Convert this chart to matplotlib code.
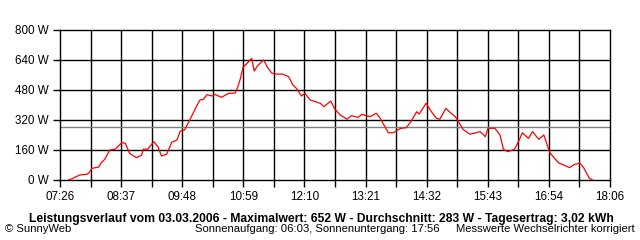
import numpy as np
import matplotlib
matplotlib.use('Agg')
from matplotlib import pyplot as plt

plt.rcParams['font.family'] = ['Liberation Sans', 'DejaVu Sans']

zeiten = ['07:36', '07:41', '07:49', '07:57', '08:00', '08:03', '08:11', '08:14', '08:18', '08:24',
          '08:30', '08:38', '08:42', '08:47', '08:55', '09:01', '09:03', '09:08', '09:15', '09:20',
          '09:24', '09:30', '09:36', '09:42', '09:46', '09:51', '09:57', '10:05', '10:09', '10:13',
          '10:17', '10:23', '10:26', '10:34', '10:42', '10:50', '10:53', '10:56', '10:59', '11:03',
          '11:09', '11:12', '11:16', '11:23', '11:27', '11:32', '11:36', '11:45', '11:52', '11:57',
          '12:01', '12:07', '12:11', '12:17', '12:23', '12:29', '12:33', '12:41', '12:46', '12:52',
          '13:00', '13:05', '13:13', '13:17', '13:27', '13:34', '13:38', '13:48', '13:54', '14:02',
          '14:09', '14:15', '14:21', '14:24', '14:32', '14:39', '14:44', '14:48', '14:55', '15:01',
          '15:06', '15:15', '15:23', '15:35', '15:41', '15:44', '15:52', '15:58', '16:02', '16:07',
          '16:15', '16:20', '16:24', '16:31', '16:36', '16:43', '16:49', '16:56', '17:00', '17:06',
          '17:19', '17:25', '17:31', '17:35', '17:42', '17:46']
leistung = [0, 9, 27, 30, 39, 62, 69, 92, 110, 160,
            164, 199, 196, 142, 119, 133, 165, 164, 204, 178,
            128, 137, 201, 213, 261, 267, 320, 395, 427, 430,
            455, 448, 457, 441, 462, 464, 498, 542, 601, 619,
            649, 581, 610, 640, 604, 572, 565, 565, 551, 507,
            489, 448, 462, 427, 418, 409, 391, 421, 377, 347,
            324, 343, 334, 350, 338, 356, 334, 252, 252, 275,
            279, 316, 364, 352, 409, 359, 329, 324, 382, 356,
            338, 270, 244, 258, 231, 276, 276, 240, 164, 151,
            164, 210, 252, 222, 258, 217, 240, 146, 124, 92,
            66, 84, 89, 68, 9, 0]
durchschnitt = 283

y_ticks = [0, 160, 320, 480, 640, 800]
x_labels = ['07:26', '08:37', '09:48', '10:59', '12:10', '13:21', '14:32', '15:43', '16:54', '18:06']


def minuten(s):
    h, m = s.split(':')
    return int(h) * 60 + int(m)


t = np.array([minuten(z) for z in zeiten])
t0 = minuten(x_labels[0])
t1 = minuten(x_labels[-1])

fig = plt.figure(figsize=(6.4, 2.4), dpi=100)
ax = fig.add_axes([60 / 640, 60 / 240, 550 / 640, 150 / 240])

grid_x = np.linspace(t0, t1, 19)
for gx in grid_x[1:-1]:
    ax.axvline(gx, color='black', lw=1.0, zorder=1)
for gy in y_ticks[1:-1]:
    ax.axhline(gy, color='black', lw=1.0, zorder=1)
ax.axhline(durchschnitt, color='#808080', lw=1.0, zorder=2)

ax.plot(t, leistung, color='#ff0000', lw=0.9, zorder=3)

ax.set_xlim(t0, t1)
ax.set_ylim(0, 800)
ax.set_xticks(grid_x)
ax.set_xticklabels([x_labels[i // 2] if i % 2 == 0 else '' for i in range(19)])
ax.set_yticks(y_ticks)
ax.set_yticklabels([f'{v} W' for v in y_ticks])
ax.tick_params(direction='out', length=5, width=1.0, labelsize=8.4, color='black', pad=3)
for sp in ax.spines.values():
    sp.set_linewidth(1.0)

fig.text(321 / 640, 1 - 219 / 240, 'Leistungsverlauf vom 03.03.2006 - Maximalwert: 652 W - Durchschnitt: 283 W - Tagesertrag: 3,02 kWh',
         ha='center', va='center', fontsize=8.7, fontweight='bold')
fig.text(5 / 640, 1 - 229 / 240, '\u00a9 SunnyWeb', ha='left', va='center', fontsize=8.1)
fig.text(440 / 640, 1 - 229 / 240, 'Sonnenaufgang: 06:03, Sonnenuntergang: 17:56', ha='right', va='center', fontsize=8.1)
fig.text(635 / 640, 1 - 229 / 240, 'Messwerte Wechselrichter korrigiert', ha='right', va='center', fontsize=8.1)

fig.savefig('out.png', dpi=100, facecolor='white')
